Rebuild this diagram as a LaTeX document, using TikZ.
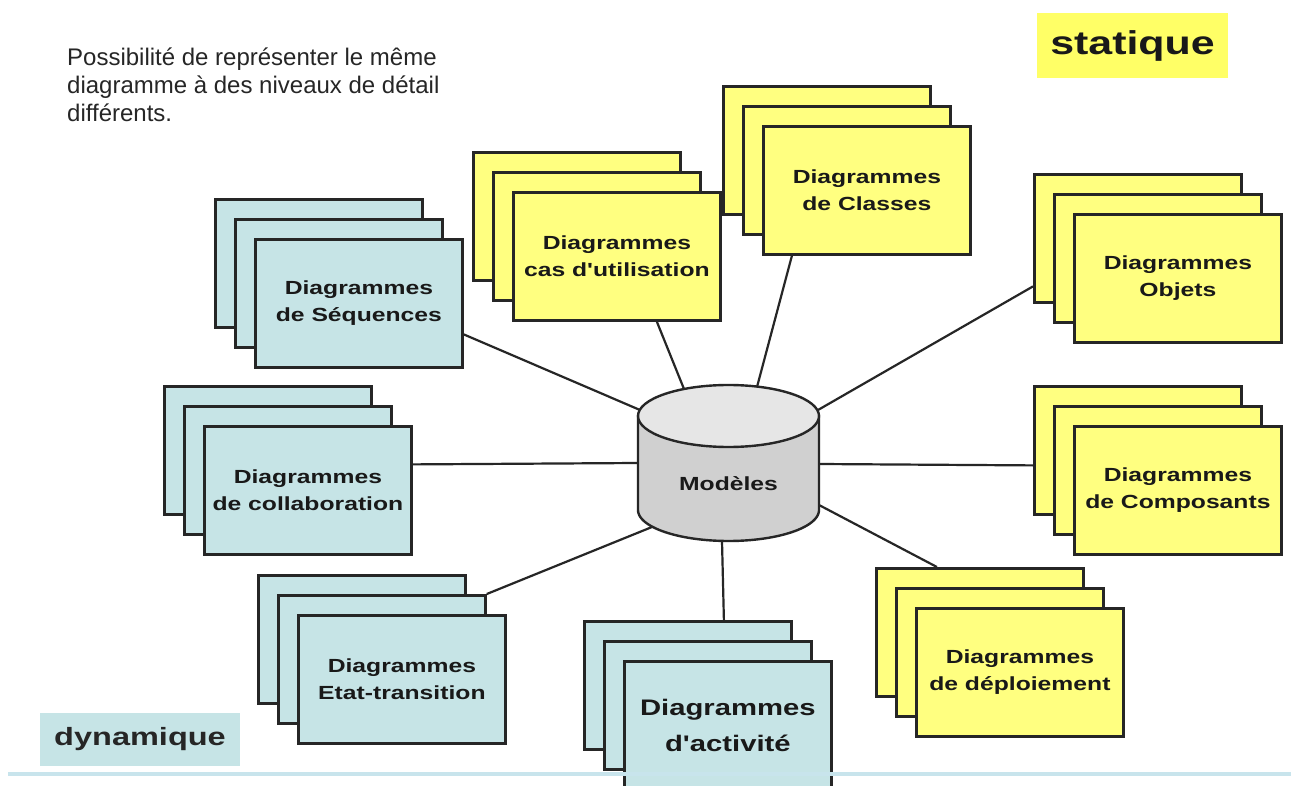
\documentclass[tikz,border=0pt]{standalone}
\usepackage{fontspec}
\setmainfont{Liberation Sans}
\newfontfamily\lblfont{Liberation Sans}[FakeStretch=1.3]
\usetikzlibrary{calc}
\definecolor{yel}{HTML}{FFFF80}
\definecolor{cyanb}{HTML}{C6E4E6}
\definecolor{labyel}{HTML}{FFFF66}
\definecolor{edgec}{HTML}{262626}
\definecolor{cylbody}{HTML}{D0D0D0}
\definecolor{cyltop}{HTML}{E6E6E6}
\definecolor{rulecol}{HTML}{C8E4EC}
\newcommand\stackcards[5]{%
  \node[#4] (#1a) at (#2,#3) {};
  \node[#4] (#1b) at (#2+20,#3+20) {};
  \node[#4] (#1) at (#2+40,#3+40) {#5};
}
\begin{document}
\begin{tikzpicture}[x=1pt,y=-1pt,
  card/.style={draw=edgec, line width=2.8pt, minimum width=207pt, minimum height=128pt, inner sep=0pt, anchor=north west, align=center, text=black!90, font=\lblfont\bfseries\fontsize{19}{27}\selectfont},
  ycard/.style={card, fill=yel},
  bcard/.style={card, fill=cyanb},
  bigcard/.style={bcard, font=\lblfont\bfseries\fontsize{22.5}{36}\selectfont},
  link/.style={draw=edgec, line width=2.2pt}]
\useasboundingbox (0,0) rectangle (1291,786);
\fill[white] (0,0) rectangle (1291,786);

% connectors' cylinder-side coordinates
\coordinate (mseq) at (640,410);
\coordinate (mcas) at (684,389);
\coordinate (mcls) at (757,387);
\coordinate (mobj) at (818,410);
\coordinate (mcomp) at (819,464);
\coordinate (mdep) at (819,505);
\coordinate (mact) at (722,541);
\coordinate (metat) at (652,527);
\coordinate (mcol) at (638,463);

% cards
\stackcards{cas}{472}{151}{ycard}{Diagrammes\\cas d'utilisation}
\stackcards{cls}{722}{85}{ycard}{Diagrammes\\de Classes}
\stackcards{obj}{1033}{173}{ycard}{Diagrammes\\Objets}
\stackcards{comp}{1033}{385}{ycard}{Diagrammes\\de Composants}
\stackcards{dep}{875}{567}{ycard}{Diagrammes\\de déploiement}
\stackcards{act}{583}{620}{bigcard}{Diagrammes\\d'activité}
\stackcards{etat}{257}{574}{bcard}{Diagrammes\\Etat-transition}
\stackcards{col}{163}{385}{bcard}{Diagrammes\\de collaboration}
\stackcards{seq}{214}{198}{bcard}{Diagrammes\\de Séquences}

% connectors
\draw[link] ([yshift=-31pt]seq.east) -- (mseq);
\draw[link] ([xshift=40pt]cas.south) -- (mcas);
\draw[link] ([xshift=-75pt]cls.south) -- (mcls);
\draw[link] ([yshift=-48pt]obja.west) -- (mobj);
\draw[link] ([yshift=-15pt]compa.west) -- (mcomp);
\draw[link] ([xshift=-43pt]depa.north) -- (mdep);
\draw[link] ([xshift=36pt]acta.north) -- (mact);
\draw[link] (etatb.north east) -- (metat);
\draw[link] ([yshift=26pt]col.east) -- (mcol);

% cylinder
\filldraw[fill=cylbody, draw=edgec, line width=2.4pt] (638,416) -- plot[domain=180:0, samples=72] ({728.5+90.5*cos(\x)},{510+31*sin(\x)}) -- (819,416) -- cycle;
\filldraw[fill=cyltop, draw=edgec, line width=2.4pt] (728.5,416) ellipse [x radius=90.5pt, y radius=31pt];
\node[font=\lblfont\bfseries\fontsize{19}{23}\selectfont, text=black!90] (mod) at (728.5,484) {Modèles};

% labels
\node[fill=labyel, minimum width=191pt, minimum height=65pt, inner sep=0pt, font=\lblfont\bfseries\fontsize{33}{38}\selectfont, text=black!90] (stat) at (1132.5,45.5) {statique};
\node[fill=cyanb, minimum width=200pt, minimum height=53pt, inner sep=0pt, font=\lblfont\bfseries\fontsize{25}{30}\selectfont, text=black!85] (dyn) at (140,739.5) {dynamique};
\node[anchor=north west, inner sep=0pt, align=left, font=\fontsize{24}{28}\selectfont, text=black!85] (intro) at (67,48) {Possibilité de représenter le même\\diagramme à des niveaux de détail\\différents.};

% bottom rule
\draw[rulecol, line width=4pt] (8,774) -- (1291,774);
\end{tikzpicture}
\end{document}
